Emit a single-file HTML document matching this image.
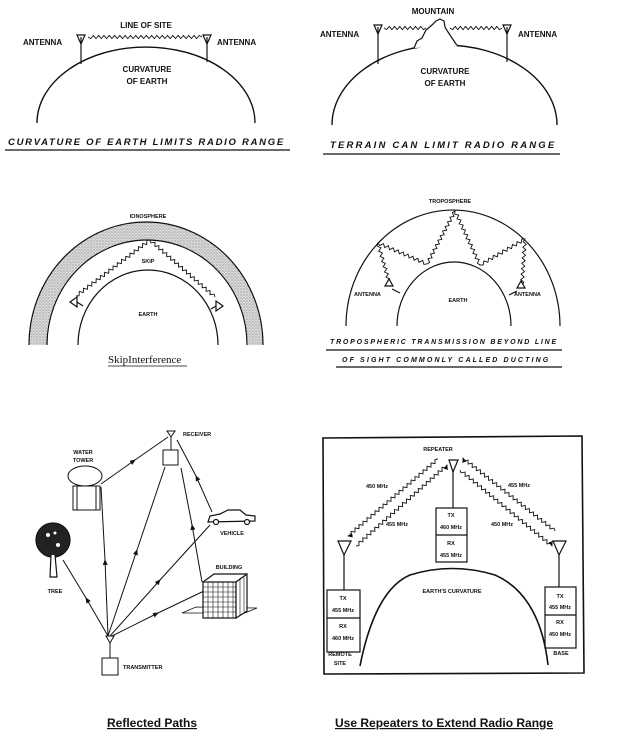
<!DOCTYPE html>
<html><head><meta charset="utf-8"><style>
html,body{margin:0;padding:0;background:#fff}
svg{display:block}
text{stroke:none}
.l{font-family:"Liberation Sans",sans-serif;font-weight:bold;font-size:8px;fill:#111}
.s{font-family:"Liberation Sans",sans-serif;font-weight:bold;font-size:5.5px;fill:#111}
.t{font-family:"Liberation Sans",sans-serif;font-weight:bold;font-style:italic;font-size:9.5px;fill:#111;letter-spacing:1.8px}
</style></head><body>
<svg id="sv" width="620" height="740" viewBox="0 0 620 740" xmlns="http://www.w3.org/2000/svg" fill="none" stroke="#111" stroke-width="1.2">
<defs>
<pattern id="dots" width="3" height="3" patternUnits="userSpaceOnUse"><rect width="3" height="3" fill="#ddd" stroke="none"/><circle cx="1" cy="1" r="0.6" fill="#777" stroke="none"/><circle cx="2.5" cy="2.2" r="0.4" fill="#999" stroke="none"/></pattern>
<marker id="ar" markerWidth="6" markerHeight="6" refX="5" refY="3" orient="auto"><path d="M0,0.5 L6,3 L0,5.5z" fill="#111" stroke="none"/></marker>
</defs>
<!-- Panel 1 -->
<path d="M37,123 A109,76 0 0 1 255,123" stroke-width="1.4"/>
<line x1="81" y1="37" x2="81" y2="64"/><line x1="207" y1="37" x2="207" y2="62"/>
<path d="M77,35 L85,35 L81,44z"/><path d="M203,35 L211,35 L207,44z"/>
<g class="zz" data-p="88,37 202,37"></g>
<text class="l" x="146" y="28" text-anchor="middle">LINE OF SITE</text>
<text class="l" x="23" y="45">ANTENNA</text><text class="l" x="217" y="45">ANTENNA</text>
<text class="l" x="147" y="72" text-anchor="middle">CURVATURE</text><text class="l" x="147" y="84" text-anchor="middle">OF EARTH</text>
<text class="t" x="8" y="145" textLength="277">CURVATURE OF EARTH LIMITS RADIO RANGE</text>
<line x1="5" y1="150" x2="290" y2="150"/>
<!-- Panel 2 -->
<path d="M332,125 A112.5,80 0 0 1 557,125" stroke-width="1.4"/>
<line x1="378" y1="27" x2="378" y2="64"/><line x1="507" y1="27" x2="507" y2="62"/>
<path d="M374,25 L382,25 L378,34z"/><path d="M503,25 L511,25 L507,34z"/>
<path d="M414,48 L417,41 L422,38 L426,30 L432,25 L436,21 L440,19 L444,21 L445,27 L448,32 L452,38 L456,44 L458,46" fill="#fff"/>
<g class="zz" data-p="384,28 426,28"></g><g class="zz" data-p="450,28 502,28"></g>
<text class="l" x="433" y="14" text-anchor="middle">MOUNTAIN</text>
<text class="l" x="320" y="37">ANTENNA</text><text class="l" x="518" y="37">ANTENNA</text>
<text class="l" x="445" y="74" text-anchor="middle">CURVATURE</text><text class="l" x="445" y="86" text-anchor="middle">OF EARTH</text>
<text class="t" x="330" y="148" textLength="226">TERRAIN CAN LIMIT RADIO RANGE</text>
<line x1="323" y1="154" x2="560" y2="154"/>
<!-- Panel 3 -->
<path d="M29,345 A117,123 0 0 1 263,345 L247,345 A100,105 0 0 0 47,345z" fill="url(#dots)" stroke="none"/>
<path d="M29,345 A117,123 0 0 1 263,345"/><path d="M47,345 A100,105 0 0 1 247,345"/>
<path d="M78,345 A70,75 0 0 1 218,345"/>
<g class="zz" data-p="76,296 150,240 215,297"></g>
<path d="M70,302 L77,297 L77,307z" fill="#fff"/><path d="M223,306 L216,301 L216,311z" fill="#fff"/>
<line x1="77" y1="302" x2="83" y2="306"/><line x1="216" y1="306" x2="211" y2="309"/>
<text class="s" x="148" y="218" text-anchor="middle">IONOSPHERE</text>
<text class="s" x="148" y="263" text-anchor="middle">SKIP</text>
<text class="s" x="148" y="316" text-anchor="middle">EARTH</text>
<text x="108" y="363" style="font-family:'Liberation Serif',serif;font-size:11px;fill:#111">SkipInterference</text>
<line x1="108" y1="366" x2="187" y2="366" stroke-width="0.8"/>
<!-- Panel 4 -->
<path d="M346,326 A107,116 0 0 1 560,326"/>
<path d="M397,326 A57,64 0 0 1 511,326"/>
<g class="zz" data-p="389,282 378,243 427,264 455,211 480,265 525,239 522,285"></g>
<path d="M385,286 L393,286 L389,279z" fill="#fff"/><path d="M517,288 L525,288 L521,281z" fill="#fff"/>
<line x1="392" y1="289" x2="400" y2="293"/><line x1="517" y1="291" x2="509" y2="295"/>
<text class="s" x="450" y="203" text-anchor="middle">TROPOSPHERE</text>
<text class="s" x="354" y="296">ANTENNA</text><text class="s" x="514" y="296">ANTENNA</text>
<text class="s" x="458" y="302" text-anchor="middle">EARTH</text>
<text class="t" x="330" y="344" style="font-size:7px" textLength="228">TROPOSPHERIC TRANSMISSION BEYOND LINE</text>
<line x1="326" y1="350" x2="562" y2="350"/>
<text class="t" x="342" y="362" style="font-size:7px" textLength="208">OF SIGHT COMMONLY CALLED DUCTING</text>
<line x1="336" y1="367" x2="562" y2="367"/>
<!-- Panel 5 -->
<g stroke-width="1">
<path d="M167,431 L175,431 L171,437z"/><line x1="171" y1="437" x2="171" y2="450"/>
<rect x="163" y="450" width="15" height="15"/>
<ellipse cx="85" cy="476" rx="17" ry="10"/>
<rect x="73" y="486" width="27" height="24"/><line x1="77" y1="486" x2="77" y2="510"/><line x1="96" y1="486" x2="96" y2="510"/>
<path d="M106,636 L114,636 L110,643z"/><line x1="110" y1="643" x2="110" y2="658"/>
<rect x="102" y="658" width="16" height="17"/>
<g stroke-width="1" marker-mid="url(#ar)">
<path d="M108,636 L86,598 L63,560"/>
<path d="M108,636 L105,560 L101,487"/>
<path d="M108,636 L137,550 L165,467"/>
<path d="M110,636 L160,580 L210,525"/>
<path d="M112,636 L158,613 L204,591"/>
<path d="M101,484 L135,460 L168,437"/>
<path d="M202,582 L192,525 L181,468"/>
<path d="M212,512 L196,476 L177,440"/>
</g>
</g>
<circle cx="53" cy="540" r="17" fill="#222"/>
<circle cx="48" cy="535" r="2" fill="#fff" stroke="none"/><circle cx="58" cy="545" r="2" fill="#fff" stroke="none"/><circle cx="55" cy="533" r="1.5" fill="#fff" stroke="none"/>
<path d="M51,555 L50,577 L57,577 L55,555" fill="#fff"/>
<path d="M208,522 L210,516 L220,514 L228,510 L240,510 L246,515 L255,516 L255,521 L208,522z" fill="#fff"/>
<circle cx="216" cy="522" r="2.5" fill="#fff"/><circle cx="247" cy="522" r="2.5" fill="#fff"/>
<path d="M182,613 L245,613 L257,608 L196,607z" stroke-width="0.8"/>
<rect x="203" y="582" width="33" height="36" fill="#fff"/>
<path d="M236,582 L247,574 L247,611 L236,618z M203,582 L214,574 L247,574" fill="#fff"/>
<path d="M203,587 H236 M203,592 H236 M203,597 H236 M203,602 H236 M203,607 H236 M203,612 H236 M208,582 V618 M213,582 V618 M218,582 V618 M223,582 V618 M228,582 V618 M233,582 V618 M240,578 V615 M244,576 V612" stroke-width="0.6"/>
<text class="s" x="183" y="436">RECEIVER</text>
<text class="s" x="83" y="454" text-anchor="middle">WATER</text><text class="s" x="83" y="462" text-anchor="middle">TOWER</text>
<text class="s" x="55" y="593" text-anchor="middle">TREE</text>
<text class="s" x="232" y="535" text-anchor="middle">VEHICLE</text>
<text class="s" x="229" y="569" text-anchor="middle">BUILDING</text>
<text class="s" x="123" y="669">TRANSMITTER</text>
<text x="107" y="727" style="font-family:'Liberation Sans',sans-serif;font-weight:bold;font-size:12px;fill:#111;text-decoration:underline">Reflected Paths</text>
<!-- Panel 6 -->
<path d="M323,438 L582,436 L584,673 L324,674z" stroke-width="1.6"/>
<path d="M449,460 L458,460 L453,472z" fill="#fff"/><line x1="453" y1="472" x2="453" y2="508"/>
<rect x="436" y="508" width="31" height="54"/><line x1="436" y1="535" x2="467" y2="535"/>
<path d="M338,541 L351,541 L344,555z" fill="#fff"/><line x1="344" y1="555" x2="344" y2="590"/>
<rect x="327" y="590" width="33" height="62"/><line x1="327" y1="618" x2="360" y2="618"/>
<path d="M553,541 L566,541 L559,555z" fill="#fff"/><line x1="559" y1="555" x2="559" y2="587"/>
<rect x="545" y="587" width="31" height="61"/><line x1="545" y1="615" x2="576" y2="615"/>
<path d="M360,666 Q375,590 410,575 Q452,562 495,575 Q540,595 548,665" stroke-width="1.6"/>
<g class="zz" data-p="438,459 348,536" data-a="1"></g>
<g class="zz" data-p="356,546 447,465" data-a="1"></g>
<g class="zz" data-p="460,470 552,546" data-a="1"></g>
<g class="zz" data-p="555,531 463,458" data-a="1"></g>
<text class="s" x="438" y="451" text-anchor="middle">REPEATER</text>
<text class="s" x="366" y="488">450 MHz</text><text class="s" x="386" y="526">455 MHz</text>
<text class="s" x="508" y="487">455 MHz</text><text class="s" x="491" y="526">450 MHz</text>
<text class="s" x="451" y="517" text-anchor="middle">TX</text><text class="s" x="451" y="529" text-anchor="middle">460 MHz</text>
<text class="s" x="451" y="545" text-anchor="middle">RX</text><text class="s" x="451" y="557" text-anchor="middle">455 MHz</text>
<text class="s" x="343" y="600" text-anchor="middle">TX</text><text class="s" x="343" y="612" text-anchor="middle">455 MHz</text>
<text class="s" x="343" y="628" text-anchor="middle">RX</text><text class="s" x="343" y="640" text-anchor="middle">460 MHz</text>
<text class="s" x="560" y="598" text-anchor="middle">TX</text><text class="s" x="560" y="609" text-anchor="middle">455 MHz</text>
<text class="s" x="560" y="624" text-anchor="middle">RX</text><text class="s" x="560" y="636" text-anchor="middle">450 MHz</text>
<text class="s" x="452" y="593" text-anchor="middle">EARTH'S CURVATURE</text>
<text class="s" x="340" y="656" text-anchor="middle">REMOTE</text><text class="s" x="340" y="665" text-anchor="middle">SITE</text>
<text class="s" x="561" y="655" text-anchor="middle">BASE</text>
<text x="335" y="727" style="font-family:'Liberation Sans',sans-serif;font-weight:bold;font-size:12px;fill:#111;text-decoration:underline">Use Repeaters to Extend Radio Range</text>
</svg>
<script>
document.querySelectorAll('.zz').forEach(function(g){
 var pts=g.getAttribute('data-p').split(' ').map(function(s){return s.split(',').map(Number)});
 var d='';var amp=1.6,step=2.6;
 for(var i=0;i<pts.length-1;i++){
  var a=pts[i],b=pts[i+1],dx=b[0]-a[0],dy=b[1]-a[1],L=Math.hypot(dx,dy),ux=dx/L,uy=dy/L,nx=-uy,ny=ux;
  var n=Math.floor(L/step);
  for(var k=0;k<=n;k++){var t=k*L/n,s=(k%2?amp:-amp);if(k==0||k==n)s=0;
   var x=a[0]+ux*t+nx*s,y=a[1]+uy*t+ny*s;d+=(d?'L':'M')+x.toFixed(1)+','+y.toFixed(1);}
 }
 var p=document.createElementNS('http://www.w3.org/2000/svg','path');
 p.setAttribute('d',d);p.setAttribute('stroke-width','0.9');
 if(g.getAttribute('data-a'))p.setAttribute('marker-end','url(#ar)');
 g.appendChild(p);
});
</script>
</body></html>
